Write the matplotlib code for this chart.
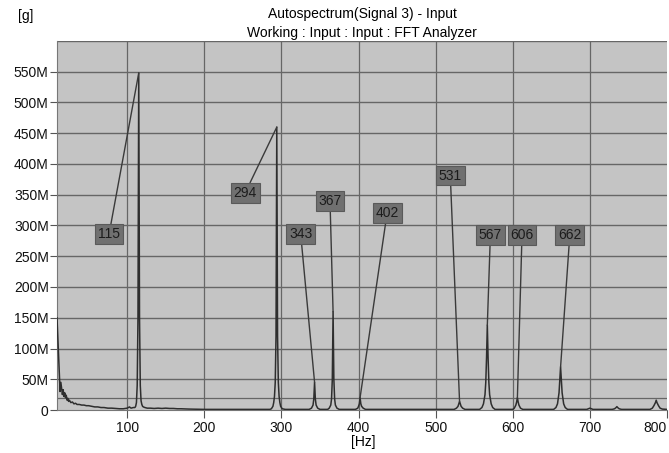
import matplotlib
matplotlib.use("Agg")
import matplotlib.pyplot as plt
from matplotlib.ticker import FixedLocator

plt.rcParams['font.family'] = ['Liberation Sans', 'DejaVu Sans']

# ---- spectrum data (frequency in Hz, amplitude in millions) ----
spec_freq = [
    9, 10, 11, 12, 13, 14, 15, 16, 17, 18, 19, 20, 21, 22, 23, 24, 25, 27, 29, 31,
    33, 35, 38, 41, 44, 47, 50, 54, 58, 62, 66, 70, 75, 80, 85, 90, 95, 100, 103, 105, 108,
    110, 111, 112, 113, 114, 115, 116, 117, 118, 119, 120, 121, 123, 126, 130, 135, 140,
    145, 150, 155, 160, 165, 170, 180, 200, 220, 240, 260, 280,
    285, 287, 289, 290, 291, 292, 293, 294, 295, 296, 297, 298, 299, 301, 305, 320, 330,
    336, 339, 341, 342, 343, 344, 345, 347, 350, 355,
    360, 362, 364, 365, 366, 367, 368, 369, 370, 372, 375, 385,
    396, 399, 400, 401, 402, 403, 404, 406, 409, 430, 470, 500, 515,
    524, 527, 529, 530, 531, 532, 533, 535, 538, 548,
    557, 560, 562, 564, 565, 566, 567, 568, 569, 570, 572, 574, 577, 585, 595,
    600, 602, 604, 605, 606, 607, 608, 610, 613, 625, 640,
    653, 656, 658, 660, 661, 662, 663, 664, 666, 668, 671, 680, 690,
    696, 699, 700, 701, 704, 715, 725,
    729, 732, 734, 735, 736, 738, 741, 750, 765, 775,
    778, 781, 783, 785, 786, 787, 789, 791, 794, 800,
]
spec_amp = [
    150, 120, 86, 60, 30, 45, 35, 25, 33, 22, 28, 20, 24, 16, 19, 14, 16, 12, 13, 10,
    11, 9, 9, 8, 8, 7, 7, 6, 5, 5, 4, 4, 3, 3, 2.5, 2, 2, 3, 5, 3, 4,
    4, 6, 12, 40, 150, 548, 150, 40, 15, 9, 6, 5, 4, 3, 3, 2.5, 3,
    2.5, 3, 2.5, 2.5, 2, 2, 1.5, 1, 1, 1, 1, 1,
    1, 2, 6, 12, 22, 45, 120, 460, 120, 45, 22, 12, 6, 2, 1, 1, 1,
    1, 3, 8, 18, 45, 18, 8, 3, 1, 1,
    1, 3, 8, 18, 50, 160, 50, 18, 8, 3, 1, 1,
    1, 3, 6, 10, 20, 10, 6, 3, 1, 1, 1, 1, 1,
    1, 3, 6, 10, 14, 10, 6, 3, 1, 1,
    1, 4, 10, 25, 45, 85, 138, 85, 45, 25, 10, 4, 1, 1, 1,
    1, 3, 8, 13, 20, 13, 8, 3, 1, 1, 1,
    1, 4, 10, 28, 50, 70, 50, 28, 10, 4, 1, 1, 1,
    1, 2.5, 3, 2.5, 1, 1, 1,
    1, 2, 4, 5.5, 4, 2, 1, 1, 1, 1,
    1, 3, 7, 12, 16, 12, 7, 3, 1.5, 1,
]

# ---- peak annotations ----
peak_labels = ["115", "294", "343", "367", "402", "531", "567", "606", "662"]
peak_freq = [115, 294, 343, 367, 402, 531, 567, 606, 662]
peak_amp = [548, 460, 45, 160, 20, 14, 138, 20, 70]
label_freq = [76.5, 253, 325, 363, 437, 519, 571, 612, 674]
label_amp = [286, 353, 286, 340, 320, 381, 285, 285, 285]

# ---- axis ticks ----
x_ticks = [100, 200, 300, 400, 500, 600, 700, 800]
y_ticks = [0, 50, 100, 150, 200, 250, 300, 350, 400, 450, 500, 550]
y_tick_labels = ["0", "50M", "100M", "150M", "200M", "250M", "300M", "350M",
                 "400M", "450M", "500M", "550M"]
y_extra_line = 20

fig = plt.figure(figsize=(6.69, 4.53), dpi=100)
fig.patch.set_facecolor("white")
ax = fig.add_axes([57 / 669, 1 - 410 / 453, (667 - 57) / 669, (410 - 41) / 453])
ax.set_facecolor("#c4c4c4")

ax.set_xlim(9, 800)
ax.set_ylim(0, 600)

grid_color = "#666666"
for yt in y_ticks[1:]:
    ax.axhline(yt, color=grid_color, lw=1.0, zorder=1)
ax.axhline(600, color=grid_color, lw=1.0, zorder=1)
ax.axhline(y_extra_line, color=grid_color, lw=0.9, zorder=1)
for xt in x_ticks[:-1]:
    ax.axvline(xt, color=grid_color, lw=0.9, zorder=1)

ax.plot(spec_freq, spec_amp, color="#2e2e2e", lw=1.1, zorder=3)

for lab, pf, pa, lf, la in zip(peak_labels, peak_freq, peak_amp, label_freq, label_amp):
    ax.annotate(lab, xy=(pf, pa), xytext=(lf, la), textcoords="data",
                ha="center", va="center", fontsize=10, color="#1c1c1c",
                bbox=dict(boxstyle="square,pad=0.2", fc="#707070", ec="#5a5a5a", lw=0.8),
                arrowprops=dict(arrowstyle="-", color="#3a3a3a", lw=1.0,
                                shrinkA=0, shrinkB=0),
                zorder=4)

ax.xaxis.set_major_locator(FixedLocator(x_ticks))
ax.set_xticklabels([str(v) for v in x_ticks])
ax.get_xticklabels()[-1].set_horizontalalignment("right")
ax.yaxis.set_major_locator(FixedLocator(y_ticks))
ax.set_yticklabels(y_tick_labels)
ax.tick_params(axis="both", labelsize=10, colors="#111111", width=0.8,
               direction="out")
ax.tick_params(axis="x", pad=2, length=6, color="#555555")
ax.tick_params(axis="y", pad=1, length=5, color="#555555")

for side in ["top", "right"]:
    ax.spines[side].set_visible(False)
ax.spines["left"].set_color("#777777")
ax.spines["bottom"].set_color("#777777")

fig.text(363 / 669, 1 - 442 / 453, "[Hz]", fontsize=10, ha="center", va="center")
fig.text(18 / 669, 1 - 16 / 453, "[g]", fontsize=10, ha="left", va="center")
fig.text(362 / 669, 1 - 14 / 453, "Autospectrum(Signal 3) - Input", fontsize=10,
         ha="center", va="center")
fig.text(362 / 669, 1 - 33 / 453, "Working : Input : Input : FFT Analyzer", fontsize=10,
         ha="center", va="center")

fig.savefig("out.png", dpi=100, facecolor="white")
